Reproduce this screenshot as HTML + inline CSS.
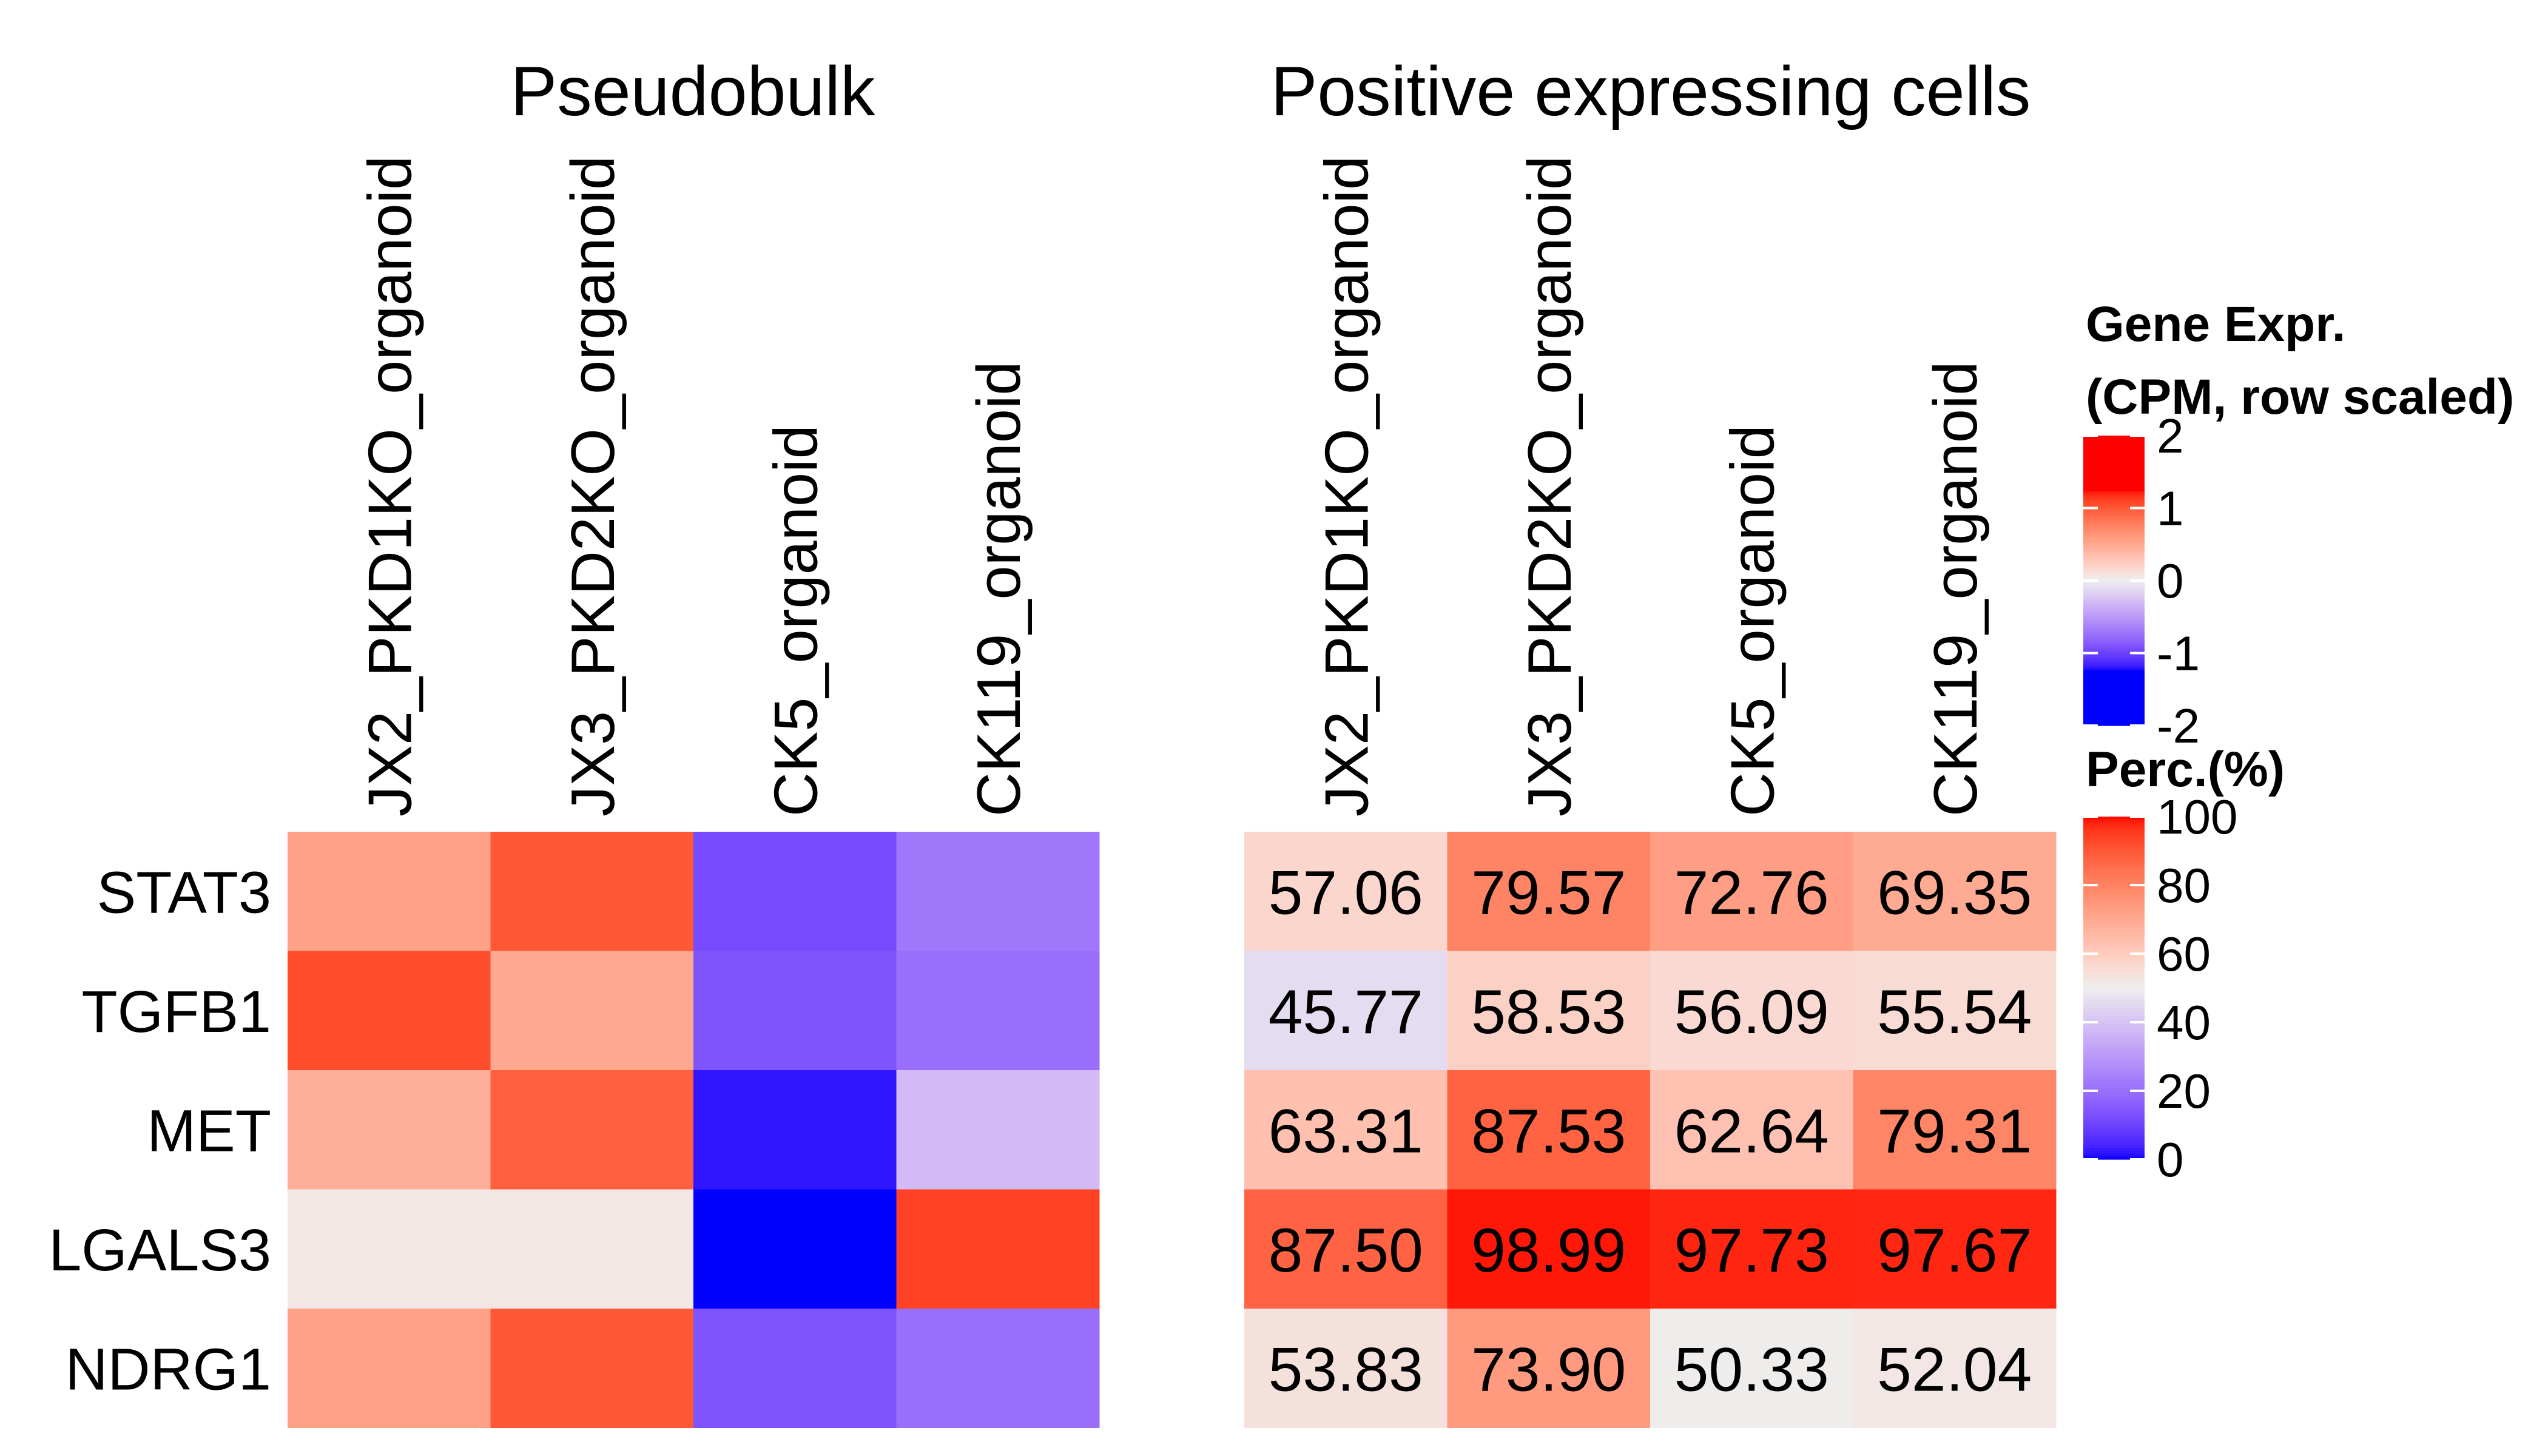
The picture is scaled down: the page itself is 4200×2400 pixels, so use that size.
<!DOCTYPE html>
<html><head><meta charset="utf-8"><style>
html,body{margin:0;padding:0;background:#fff;}
svg{display:block;font-family:"Liberation Sans",Arial,sans-serif;}
</style></head><body>
<svg id="chart" width="4200" height="2400" viewBox="0 0 4200 2400" xmlns="http://www.w3.org/2000/svg">
<text x="1142" y="190" font-size="115" text-anchor="middle">Pseudobulk</text>
<text x="2721" y="190" font-size="115" text-anchor="middle">Positive expressing cells</text>
<g id="left"></g>
<g id="right"></g>
<g id="legend">
<text x="3438" y="562" font-size="82" font-weight="bold">Gene Expr.</text>
<text x="3438" y="682" font-size="82" font-weight="bold">(CPM, row scaled)</text>
<text x="3438" y="1296" font-size="82" font-weight="bold">Perc.(%)</text>
</g>
</svg>
<script>
const genes = ["STAT3","TGFB1","MET","LGALS3","NDRG1"];
const samples = ["JX2_PKD1KO_organoid","JX3_PKD2KO_organoid","CK5_organoid","CK119_organoid"];
const exprSTAT3 = [0.55, 1.0, -0.95, -0.7];
const exprTGFB1 = [1.05, 0.5, -0.9, -0.75];
const exprMET = [0.45, 0.95, -1.2, -0.3];
const exprLGALS3 = [0.05, 0.05, -1.5, 1.1];
const exprNDRG1 = [0.55, 1.0, -0.9, -0.75];
const percSTAT3 = [57.06, 79.57, 72.76, 69.35];
const percTGFB1 = [45.77, 58.53, 56.09, 55.54];
const percMET = [63.31, 87.53, 62.64, 79.31];
const percLGALS3 = [87.50, 98.99, 97.73, 97.67];
const percNDRG1 = [53.83, 73.90, 50.33, 52.04];
const exprTicks = [2, 1, 0, -1, -2];
const percTicks = [100, 80, 60, 40, 20, 0];

const expr = [exprSTAT3, exprTGFB1, exprMET, exprLGALS3, exprNDRG1];
const perc = [percSTAT3, percTGFB1, percMET, percLGALS3, percNDRG1];
const SVGNS = "http://www.w3.org/2000/svg";

function toLab(c){
  let [r,g,b]=c.map(v=>{v/=255;return v<=0.04045?v/12.92:Math.pow((v+0.055)/1.055,2.4);});
  let x=(r*0.4124+g*0.3576+b*0.1805)/0.95047,y=r*0.2126+g*0.7152+b*0.0722,z=(r*0.0193+g*0.1192+b*0.9505)/1.08883;
  const f=t=>t>0.008856?Math.cbrt(t):7.787*t+16/116;
  return [116*f(y)-16,500*(f(x)-f(y)),200*(f(y)-f(z))];
}
function fromLab(l){
  let fy=(l[0]+16)/116,fx=fy+l[1]/500,fz=fy-l[2]/200;
  const fi=t=>t*t*t>0.008856?t*t*t:(t-16/116)/7.787;
  let x=fi(fx)*0.95047,y=fi(fy),z=fi(fz)*1.08883;
  let r=x*3.2406-y*1.5372-z*0.4986,g=-x*0.9689+y*1.8758+z*0.0415,b=x*0.0557-y*0.2040+z*1.0570;
  return [r,g,b].map(v=>{v=v<=0.0031308?12.92*v:1.055*Math.pow(v,1/2.4)-0.055;return Math.round(Math.max(0,Math.min(1,v))*255);});
}
const LAB_BLUE=toLab([0,0,255]),LAB_MID=toLab([238,238,238]),LAB_RED=toLab([255,0,0]);
function ramp(v,lo,mid,hi){
  v=Math.max(lo,Math.min(hi,v));
  let a,b,t;
  if(v<mid){a=LAB_BLUE;b=LAB_MID;t=(v-lo)/(mid-lo);}else{a=LAB_MID;b=LAB_RED;t=(v-mid)/(hi-mid);}
  const c=fromLab([0,1,2].map(i=>a[i]+(b[i]-a[i])*t));
  return "rgb("+c.join(",")+")";
}
const exprColor=v=>ramp(v,-1.25,0,1.25);
const percColor=v=>ramp(v,0,50,100);

const colW=334.5, rowH=196.5, gridTop=1371;
const xL=i=>474+i*colW, xR=i=>2051+i*colW, yR=j=>gridTop+j*rowH;

function mk(tag,attrs,parent){const e=document.createElementNS(SVGNS,tag);for(const k in attrs)e.setAttribute(k,attrs[k]);parent.appendChild(e);return e;}

const LG=document.getElementById("left"), RG=document.getElementById("right");
genes.forEach((g,j)=>{
  const t=mk("text",{x:447,y:yR(j)+rowH/2+35,"font-size":97,"text-anchor":"end"},LG);
  
  
  t.textContent=g;
  samples.forEach((s,i)=>{
    const r=mk("rect",{x:xL(i),y:yR(j),width:colW+0.5,height:rowH+0.5,fill:exprColor(expr[j][i])},LG);
    
    
    const r2=mk("rect",{x:xR(i),y:yR(j),width:colW+0.5,height:rowH+0.5,fill:percColor(perc[j][i])},RG);
    
    
    const tx=mk("text",{x:xR(i)+colW/2,y:yR(j)+rowH/2+37,"font-size":102,"text-anchor":"middle"},RG);
    
    
    tx.textContent=perc[j][i].toFixed(2);
  });
});
samples.forEach((s,i)=>{
  [[xL,LG],[xR,RG]].forEach(([fx,p])=>{
    const cx=fx(i)+colW/2+36;
    const t=mk("text",{x:cx,y:1346,"font-size":101,"text-anchor":"start",transform:"rotate(-90 "+cx+" 1346)"},p);
    
    
    t.textContent=s;
  });
});

const LEG=document.getElementById("legend");
function bar(y0,y1,lo,hi,ticks,colorFn,name){
  const n=120,h=(y1-y0)/n;
  for(let k=0;k<n;k++){
    const v=hi-(hi-lo)*(k+0.5)/n;
    mk("rect",{x:3434,y:y0+k*h,width:101,height:h+0.6,fill:colorFn(v)},LEG);
  }
  ticks.forEach(tv=>{
    const y=y0+(hi-tv)/(hi-lo)*(y1-y0);
    mk("line",{x1:3434,x2:3458,y1:y,y2:y,stroke:"#fff","stroke-width":4},LEG);
    mk("line",{x1:3511,x2:3535,y1:y,y2:y,stroke:"#fff","stroke-width":4},LEG);
    const t=mk("text",{x:3555,y:y+28,"font-size":80},LEG);
    
    
    t.textContent=tv<0?"-"+Math.abs(tv):String(tv);
  });
}
bar(718,1196,-2,2,exprTicks,exprColor,"gene-expr");
bar(1346,1911,0,100,percTicks,percColor,"perc");
</script>
</body></html>
